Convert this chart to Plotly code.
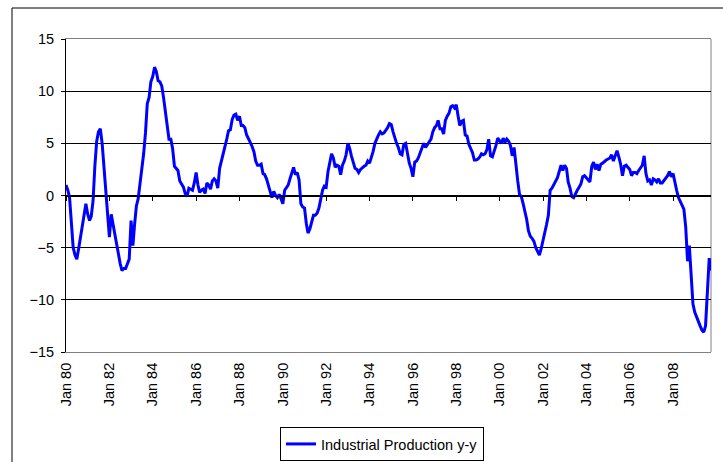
import pandas as pd
import plotly.graph_objects as go

# Industrial Production, year-on-year % change, monthly from Jan 1980
start_month = "1980-01-01"
series_name = "Industrial Production y-y"

ip_1980s = [
    1.0, 0.5, -0.2, -2.4, -5.0, -5.7, -6.1, -5.1, -3.9, -2.9, -1.8, -0.8,   # 1980
    -1.8, -2.4, -2.0, -0.5, 2.8, 5.2, 6.1, 6.4, 5.0, 2.8, 0.2, -2.2,        # 1981
    -4.0, -1.8, -2.7, -3.6, -4.5, -5.6, -6.5, -7.2, -7.0, -7.0, -6.6, -6.1,  # 1982
    -2.4, -4.8, -2.8, -1.0, -0.3, 1.0, 2.2, 4.0, 6.0, 8.8, 9.4, 10.9,       # 1983
    11.4, 12.3, 11.9, 11.0, 10.9, 10.5, 9.4, 7.9, 6.3, 5.4, 5.4, 4.5,       # 1984
    2.8, 2.6, 2.4, 1.4, 1.1, 0.8, 0.2, -0.1, 0.7, 0.6, 0.5, 1.2,            # 1985
    2.2, 1.0, 0.3, 0.5, 0.6, 0.2, 1.2, 1.0, 0.6, 1.4, 1.6, 1.4,             # 1986
    0.7, 2.6, 3.2, 4.1, 4.5, 5.4, 6.2, 6.3, 7.3, 7.7, 7.8, 7.2,             # 1987
    7.6, 6.7, 6.7, 6.5, 5.8, 5.5, 5.1, 4.7, 4.2, 3.3, 2.9, 2.9,             # 1988
    3.0, 2.1, 2.0, 1.6, 1.0, 0.6, -0.2, 0.4, 0.0, -0.2, 0.1, -0.3,          # 1989
]
ip_1990s = [
    -0.8, 0.5, 0.8, 1.0, 1.6, 2.2, 2.7, 2.0, 2.2, 1.5, -0.8, -1.1,          # 1990
    -1.2, -2.7, -3.6, -3.2, -2.4, -1.9, -1.9, -1.7, -1.2, -0.4, 0.5, 0.9,   # 1991
    0.8, 2.3, 3.2, 4.0, 3.6, 2.7, 2.9, 2.8, 2.0, 2.9, 3.3, 3.9,             # 1992
    5.0, 4.5, 3.8, 3.2, 2.6, 2.5, 2.2, 2.5, 2.7, 2.8, 2.9, 3.3,             # 1993
    3.1, 3.6, 4.2, 5.0, 5.5, 5.8, 6.1, 5.9, 6.0, 6.2, 6.5, 6.9,             # 1994
    6.8, 6.1, 5.5, 5.0, 4.6, 4.0, 3.9, 4.9, 5.0, 4.1, 3.1, 2.6,             # 1995
    1.8, 3.2, 3.3, 3.6, 4.1, 4.7, 5.0, 4.6, 4.9, 5.1, 5.4, 6.1,             # 1996
    6.5, 6.7, 7.2, 6.4, 6.4, 5.9, 7.2, 7.6, 7.9, 8.5, 8.6, 8.4,             # 1997
    8.7, 7.6, 6.7, 7.1, 7.2, 5.8, 5.7, 4.9, 4.5, 4.1, 3.4, 3.4,             # 1998
    3.5, 3.7, 4.0, 3.9, 4.0, 4.4, 5.4, 3.8, 3.7, 4.2, 4.8, 5.5,             # 1999
]
ip_2000s = [
    5.2, 5.0, 5.5, 5.1, 5.4, 5.2, 4.8, 3.8, 4.6, 2.7, 1.4, 0.1,             # 2000
    -0.1, -0.8, -1.5, -2.3, -3.4, -3.9, -4.1, -4.4, -5.0, -5.3, -5.7, -5.1, # 2001
    -4.4, -3.5, -2.8, -1.9, 0.5, 0.7, 1.0, 1.4, 1.7, 2.3, 2.9, 2.4,         # 2002
    2.9, 2.6, 1.3, 0.7, -0.1, -0.2, 0.2, 0.5, 0.8, 1.1, 1.8, 1.9,           # 2003
    1.7, 1.5, 1.3, 2.8, 3.2, 2.5, 3.0, 2.4, 3.0, 3.1, 3.3, 3.4,             # 2004
    3.5, 3.6, 3.9, 3.3, 3.8, 4.3, 3.7, 3.0, 1.9, 2.8, 2.9, 2.7,             # 2005
    2.5, 1.9, 2.2, 2.2, 2.1, 2.4, 2.6, 2.9, 3.8, 2.1, 1.4, 1.5,             # 2006
    1.0, 1.6, 1.5, 1.3, 1.6, 1.2, 1.2, 1.4, 1.6, 1.9, 2.3, 1.8,             # 2007
    2.1, 1.1, 0.5, -0.2, -0.6, -0.9, -1.3, -3.0, -6.3, -4.8, -7.5, -10.4,   # 2008
    -11.2, -11.7, -12.2, -12.5, -12.9, -13.1, -12.5, -9.7, -6.0, -7.2,      # 2009
]
y_ticks = [-15, -10, -5, 0, 5, 10, 15]
x_tick_step_months = 24

values = ip_1980s + ip_1990s + ip_2000s
dates = pd.date_range(start_month, periods=len(values), freq="MS")
x_ticks = list(dates[::x_tick_step_months])
x_range = [dates[0], dates[-1]]

FONT = "Liberation Sans, Arial, sans-serif"
TICK_SIZE = 14.5

fig = go.Figure()
fig.add_trace(go.Scatter(
    x=dates, y=values, mode="lines", name=series_name,
    line=dict(color="#0000FF", width=3),
))
# invisible copy that carries the zero-line axis with its tick marks
fig.add_trace(go.Scatter(
    x=dates, y=values, mode="lines", xaxis="x2", showlegend=False,
    hoverinfo="skip", opacity=0, line=dict(width=0),
))

W, H = 723, 462
L, R, T, B = 66, 12, 39, 110
pw, ph = W - L - R, H - T - B

fig.update_layout(
    width=W, height=H,
    margin=dict(l=L, r=R, t=T, b=B, autoexpand=False),
    paper_bgcolor="white", plot_bgcolor="white",
    font=dict(family=FONT, size=TICK_SIZE, color="black"),
    xaxis=dict(
        type="date", range=x_range, tickvals=x_ticks, tickformat="%b %y",
        tickangle=-90, ticks="", showgrid=False, zeroline=False,
        showline=True, linecolor="#808080", linewidth=1, mirror=True,
        automargin=False, ticklabelstandoff=4,
        tickfont=dict(family=FONT, size=TICK_SIZE, color="black"),
    ),
    xaxis2=dict(
        type="date", range=x_range, tickvals=x_ticks, overlaying="x",
        anchor="free", position=0.5, side="bottom", automargin=False,
        showticklabels=False, ticks="outside", ticklen=4, tickcolor="black",
        showline=True, linecolor="black", linewidth=1,
        showgrid=False, zeroline=False,
    ),
    yaxis=dict(
        range=[-15, 15], tickvals=y_ticks, showgrid=True, gridcolor="black",
        gridwidth=1, zeroline=False, showline=True, linecolor="black",
        linewidth=1, ticks="outside", ticklen=4, tickcolor="black",
        automargin=False, ticklabelstandoff=4,
        tickfont=dict(family=FONT, size=TICK_SIZE, color="black"),
    ),
    showlegend=True,
    legend=dict(
        x=(280 - L) / pw, y=(H - B - 427) / ph, xanchor="left", yanchor="top",
        bordercolor="black", borderwidth=1, bgcolor="white",
        font=dict(family=FONT, size=14.5, color="black"),
    ),
    shapes=[
        dict(type="line", xref="paper", yref="paper", x0=1, x1=1, y0=0, y1=1,
             line=dict(color="#808080", width=1), layer="below"),
        dict(type="rect", xref="paper", yref="paper",
             x0=(12 - L) / pw, x1=(740 - L) / pw,
             y0=(H - B - 480) / ph, y1=(H - B - 8) / ph,
             line=dict(color="black", width=1), layer="below"),
    ],
)

fig.write_html(
    "out.html",
    config={"displayModeBar": False},
    post_script="document.body.style.margin='0';document.body.style.overflow='hidden';",
)
